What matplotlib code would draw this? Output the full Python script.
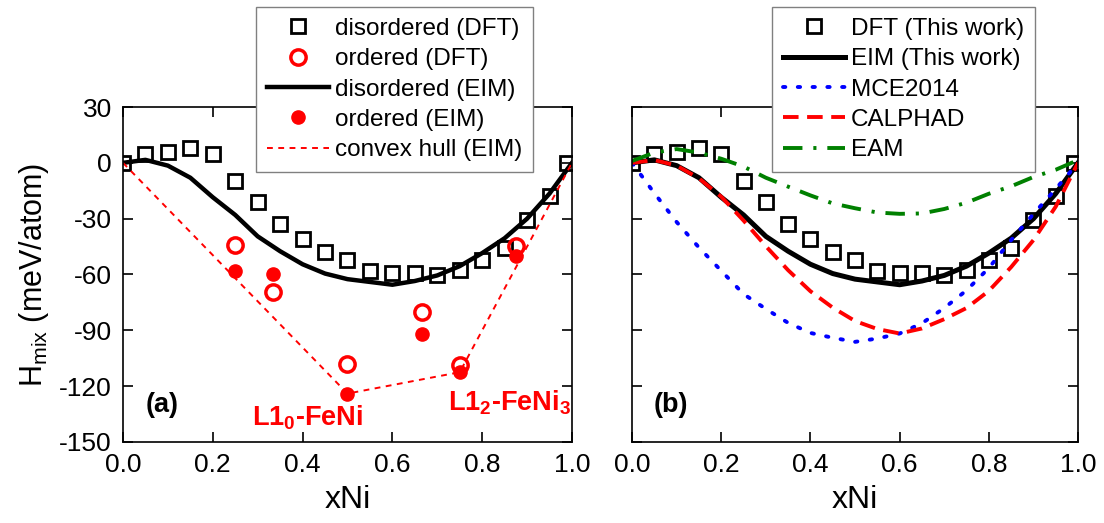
import matplotlib
matplotlib.use("Agg")
import matplotlib.pyplot as plt
import numpy as np

plt.rcParams['font.family'] = ['Liberation Sans', 'DejaVu Sans']
plt.rcParams['mathtext.fontset'] = 'custom'
plt.rcParams['mathtext.rm'] = 'Liberation Sans'
plt.rcParams['mathtext.it'] = 'Liberation Sans:italic'
plt.rcParams['mathtext.bf'] = 'Liberation Sans:bold'
plt.rcParams['axes.unicode_minus'] = False

# composition grid
x = [0.0, 0.05, 0.1, 0.15, 0.2, 0.25, 0.3, 0.35, 0.4, 0.45, 0.5,
     0.55, 0.6, 0.65, 0.7, 0.75, 0.8, 0.85, 0.9, 0.95, 1.0]

# DFT disordered (squares)
x_dft = [0.0, 0.05, 0.1, 0.15, 0.2, 0.25, 0.3, 0.35, 0.4, 0.45, 0.5,
         0.55, 0.6, 0.65, 0.7, 0.75, 0.8, 0.85, 0.9, 0.95, 0.99]
h_dft = [0.0, 4.8, 5.8, 8.2, 4.7, -10.0, -21.0, -33.0, -41.0, -48.0, -52.0,
         -58.0, -59.0, -59.4, -60.3, -57.6, -52.0, -46.0, -30.7, -17.8, 0.0]

# EIM disordered curve
h_eim = [0.0, 1.6, -1.5, -8.0, -18.5, -28.0, -39.5, -47.5, -54.5, -59.5, -62.5,
         -64.0, -65.5, -63.5, -60.5, -55.5, -48.5, -40.5, -30.0, -16.5, 0.0]

# ordered structures
x_ord = [0.25, 1/3, 0.5, 2/3, 0.75, 0.875]
h_ord_dft = [-44.0, -69.5, -108.0, -80.0, -108.5, -44.5]
h_ord_eim = [-58.0, -60.0, -124.0, -92.0, -112.5, -50.0]

# convex hull (EIM)
x_hull = [0.0, 0.5, 0.75, 1.0]
h_hull = [0.0, -124.0, -112.5, 0.0]

# other models
h_mce = [0.0, -16.3, -31.8, -45.5, -58.0, -70.5, -78.5, -86.0, -91.4, -94.0, -96.2,
         -94.4, -91.7, -86.2, -78.0, -68.5, -56.5, -41.5, -27.5, -14.0, 0.0]
h_calphad = [0.0, 1.5, -1.5, -8.3, -18.2, -31.0, -44.8, -57.7, -69.0, -77.8, -85.0,
             -89.3, -91.7, -89.0, -84.0, -78.0, -68.8, -56.0, -41.5, -23.5, 0.0]
h_eam = [1.0, 5.5, 7.4, 5.5, 2.2, -2.0, -8.0, -12.8, -17.5, -21.8, -24.4,
         -26.7, -27.4, -27.2, -24.8, -21.4, -16.6, -12.6, -7.6, -3.7, 1.5]

fig = plt.figure(figsize=(11.04, 5.23), dpi=100)
ax1 = fig.add_axes([0.1114, 0.1549, 0.4067, 0.6405])
ax2 = fig.add_axes([0.5725, 0.1549, 0.4040, 0.6405])

sq = dict(ls='none', marker='s', ms=10, mfc='none', mec='black', mew=2)

# panel (a)
ax1.plot(x_dft, h_dft, label='disordered (DFT)', **sq)
ax1.plot(x_ord, h_ord_dft, ls='none', marker='o', ms=11, mfc='none', mec='red',
         mew=2.5, label='ordered (DFT)')
ax1.plot(x, h_eim, color='black', lw=3.2, label='disordered (EIM)')
ax1.plot(x_ord, h_ord_eim, ls='none', marker='o', ms=9.5, color='red',
         label='ordered (EIM)')
ax1.plot(x_hull, h_hull, color='red', lw=1.4, ls=(0, (3, 2.8)), label='convex hull (EIM)')

ax1.text(0.41, -141, r'L1$_\mathbf{0}$-FeNi', color='red', fontsize=19.5,
         fontweight='bold', ha='center', va='baseline')
ax1.text(0.861, -133, r'L1$_\mathbf{2}$-FeNi$_\mathbf{3}$', color='red', fontsize=19.5,
         fontweight='bold', ha='center', va='baseline')
ax1.text(0.088, -134, '(a)', fontsize=19.5, fontweight='bold', ha='center', va='baseline')

# panel (b)
ax2.plot(x_dft, h_dft, label='DFT (This work)', **sq)
ax2.plot(x, h_eim, color='black', lw=3.6, label='EIM (This work)')
ax2.plot(x, h_mce, color='blue', lw=2.8, ls=(0, (0.6, 3.2)),
         dash_capstyle='round', label='MCE2014')
ax2.plot(x, h_calphad, color='red', lw=2.8, ls=(0, (4, 2.2)), label='CALPHAD')
ax2.plot(x, h_eam, color='green', lw=2.8, ls=(0, (5, 2.8, 0.8, 2.8)), label='EAM')
ax2.text(0.088, -134, '(b)', fontsize=19.5, fontweight='bold', ha='center', va='baseline')

for ax in (ax1, ax2):
    ax.set_xlim(0, 1)
    ax.set_ylim(-150, 30)
    ax.set_xticks([0.0, 0.2, 0.4, 0.6, 0.8, 1.0])
    ax.set_yticks([30, 0, -30, -60, -90, -120, -150])
    ax.tick_params(direction='in', length=7, width=1.2, top=True, right=True,
                   labelsize=19, pad=8)
    for s in ax.spines.values():
        s.set_linewidth(1.2)
    ax.set_xlabel('xNi', fontsize=23, labelpad=6)

ax1.set_ylabel(r'H$_{\mathrm{mix}}$ (meV/atom)', fontsize=22, labelpad=6)
ax2.tick_params(labelleft=False)

leg_kw = dict(fontsize=17.5, loc='upper left', borderaxespad=0, fancybox=False,
              framealpha=1, edgecolor='#808080', handlelength=2.55,
              handletextpad=0.25, labelspacing=0.34, borderpad=0.45)
l1 = ax1.legend(bbox_to_anchor=(0.296, 1.2985), **leg_kw)
l2 = ax2.legend(bbox_to_anchor=(0.314, 1.2985), **leg_kw)
for l in (l1, l2):
    l.get_frame().set_linewidth(1.0)

fig.savefig('out.png', dpi=100)
